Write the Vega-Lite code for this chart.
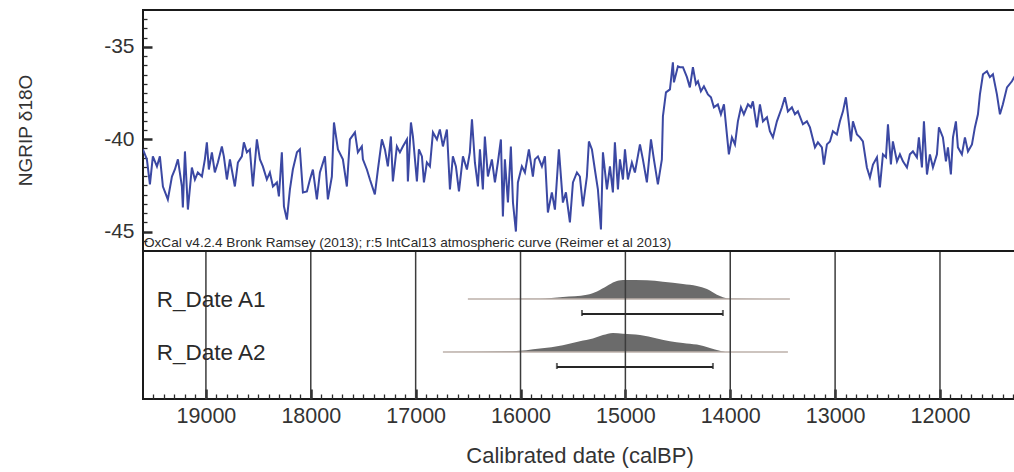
{
  "$schema": "https://vega.github.io/schema/vega-lite/v6.json",
  "width": 873,
  "height": 389,
  "autosize": {"type": "none"},
  "padding": {"left": 143, "top": 10, "right": 0, "bottom": 73},
  "background": "white",
  "config": {
    "view": {"stroke": "#1a1a1a", "strokeWidth": 2},
    "font": "Liberation Sans"
  },
  "datasets": {
    "ngrip": [
      {"date": 19601, "d18O": -40.55}, {"date": 19563, "d18O": -41.09}, {"date": 19534, "d18O": -42.45}, {"date": 19506, "d18O": -40.93},
      {"date": 19467, "d18O": -41.47}, {"date": 19439, "d18O": -40.93}, {"date": 19410, "d18O": -42.56}, {"date": 19363, "d18O": -43.26},
      {"date": 19324, "d18O": -42.02}, {"date": 19296, "d18O": -41.64}, {"date": 19267, "d18O": -41.09}, {"date": 19229, "d18O": -42.56},
      {"date": 19220, "d18O": -43.70}, {"date": 19200, "d18O": -40.66}, {"date": 19172, "d18O": -43.81}, {"date": 19134, "d18O": -41.53},
      {"date": 19105, "d18O": -42.18}, {"date": 19077, "d18O": -41.80}, {"date": 19038, "d18O": -42.02}, {"date": 19010, "d18O": -41.09},
      {"date": 18991, "d18O": -40.17}, {"date": 18972, "d18O": -41.64}, {"date": 18943, "d18O": -40.71}, {"date": 18915, "d18O": -41.80},
      {"date": 18886, "d18O": -41.26}, {"date": 18848, "d18O": -40.39}, {"date": 18829, "d18O": -40.93}, {"date": 18800, "d18O": -42.18},
      {"date": 18771, "d18O": -41.09}, {"date": 18724, "d18O": -42.56}, {"date": 18695, "d18O": -41.26}, {"date": 18657, "d18O": -40.93},
      {"date": 18638, "d18O": -40.17}, {"date": 18609, "d18O": -40.71}, {"date": 18581, "d18O": -40.55}, {"date": 18552, "d18O": -42.56},
      {"date": 18514, "d18O": -40.01}, {"date": 18485, "d18O": -41.09}, {"date": 18457, "d18O": -41.47}, {"date": 18419, "d18O": -42.18},
      {"date": 18390, "d18O": -41.80}, {"date": 18361, "d18O": -42.56}, {"date": 18323, "d18O": -42.34}, {"date": 18304, "d18O": -43.10},
      {"date": 18276, "d18O": -40.71}, {"date": 18256, "d18O": -43.64}, {"date": 18228, "d18O": -44.35}, {"date": 18199, "d18O": -42.72},
      {"date": 18171, "d18O": -41.64}, {"date": 18132, "d18O": -40.71}, {"date": 18104, "d18O": -40.55}, {"date": 18075, "d18O": -42.88},
      {"date": 18037, "d18O": -42.83}, {"date": 18008, "d18O": -42.18}, {"date": 17980, "d18O": -41.64}, {"date": 17942, "d18O": -43.26},
      {"date": 17913, "d18O": -41.80}, {"date": 17865, "d18O": -40.93}, {"date": 17837, "d18O": -43.26}, {"date": 17799, "d18O": -42.02},
      {"date": 17779, "d18O": -39.09}, {"date": 17741, "d18O": -40.55}, {"date": 17694, "d18O": -41.09}, {"date": 17656, "d18O": -42.56},
      {"date": 17627, "d18O": -40.01}, {"date": 17579, "d18O": -39.63}, {"date": 17551, "d18O": -40.71}, {"date": 17513, "d18O": -40.39},
      {"date": 17503, "d18O": -41.09}, {"date": 17465, "d18O": -41.64}, {"date": 17436, "d18O": -42.18}, {"date": 17389, "d18O": -42.99},
      {"date": 17360, "d18O": -41.64}, {"date": 17322, "d18O": -40.01}, {"date": 17293, "d18O": -40.55}, {"date": 17265, "d18O": -41.47},
      {"date": 17236, "d18O": -39.85}, {"date": 17217, "d18O": -42.29}, {"date": 17179, "d18O": -40.39}, {"date": 17150, "d18O": -40.71},
      {"date": 17122, "d18O": -40.39}, {"date": 17083, "d18O": -40.01}, {"date": 17074, "d18O": -42.29}, {"date": 17045, "d18O": -39.09},
      {"date": 17026, "d18O": -39.85}, {"date": 16988, "d18O": -42.29}, {"date": 16969, "d18O": -40.55}, {"date": 16940, "d18O": -40.93},
      {"date": 16921, "d18O": -42.34}, {"date": 16893, "d18O": -41.26}, {"date": 16864, "d18O": -41.47}, {"date": 16835, "d18O": -39.63},
      {"date": 16797, "d18O": -40.01}, {"date": 16769, "d18O": -39.47}, {"date": 16740, "d18O": -40.39}, {"date": 16702, "d18O": -39.47},
      {"date": 16673, "d18O": -42.72}, {"date": 16645, "d18O": -40.93}, {"date": 16616, "d18O": -41.47}, {"date": 16587, "d18O": -42.83},
      {"date": 16549, "d18O": -40.93}, {"date": 16511, "d18O": -41.64}, {"date": 16483, "d18O": -40.71}, {"date": 16463, "d18O": -38.92},
      {"date": 16435, "d18O": -41.26}, {"date": 16406, "d18O": -42.56}, {"date": 16387, "d18O": -40.55}, {"date": 16359, "d18O": -42.72},
      {"date": 16340, "d18O": -39.85}, {"date": 16311, "d18O": -42.02}, {"date": 16273, "d18O": -41.09}, {"date": 16244, "d18O": -42.34},
      {"date": 16216, "d18O": -41.26}, {"date": 16187, "d18O": -40.01}, {"date": 16168, "d18O": -44.19}, {"date": 16149, "d18O": -41.09},
      {"date": 16120, "d18O": -43.43}, {"date": 16092, "d18O": -40.39}, {"date": 16072, "d18O": -43.43}, {"date": 16044, "d18O": -45.00},
      {"date": 16025, "d18O": -42.34}, {"date": 15987, "d18O": -41.47}, {"date": 15958, "d18O": -41.80}, {"date": 15920, "d18O": -40.55},
      {"date": 15882, "d18O": -42.02}, {"date": 15863, "d18O": -41.09}, {"date": 15834, "d18O": -40.93}, {"date": 15796, "d18O": -41.47},
      {"date": 15767, "d18O": -40.93}, {"date": 15739, "d18O": -43.97}, {"date": 15701, "d18O": -42.88}, {"date": 15672, "d18O": -43.81},
      {"date": 15634, "d18O": -40.55}, {"date": 15596, "d18O": -43.43}, {"date": 15567, "d18O": -42.88}, {"date": 15529, "d18O": -44.51},
      {"date": 15500, "d18O": -42.34}, {"date": 15462, "d18O": -41.80}, {"date": 15434, "d18O": -42.02}, {"date": 15405, "d18O": -43.64},
      {"date": 15367, "d18O": -42.02}, {"date": 15348, "d18O": -40.12}, {"date": 15319, "d18O": -40.55}, {"date": 15291, "d18O": -41.64},
      {"date": 15262, "d18O": -42.72}, {"date": 15233, "d18O": -44.89}, {"date": 15214, "d18O": -40.71}, {"date": 15176, "d18O": -42.72},
      {"date": 15147, "d18O": -41.47}, {"date": 15119, "d18O": -42.88}, {"date": 15100, "d18O": -40.17}, {"date": 15071, "d18O": -42.72},
      {"date": 15052, "d18O": -41.09}, {"date": 15023, "d18O": -42.18}, {"date": 15004, "d18O": -40.55}, {"date": 14976, "d18O": -42.18},
      {"date": 14938, "d18O": -41.26}, {"date": 14909, "d18O": -41.80}, {"date": 14861, "d18O": -40.28}, {"date": 14833, "d18O": -41.09},
      {"date": 14795, "d18O": -42.34}, {"date": 14756, "d18O": -40.01}, {"date": 14728, "d18O": -41.09}, {"date": 14690, "d18O": -42.45},
      {"date": 14652, "d18O": -41.09}, {"date": 14642, "d18O": -38.76}, {"date": 14613, "d18O": -37.46}, {"date": 14575, "d18O": -37.30},
      {"date": 14547, "d18O": -35.83}, {"date": 14537, "d18O": -36.92}, {"date": 14499, "d18O": -36.05}, {"date": 14480, "d18O": -36.10},
      {"date": 14451, "d18O": -36.10}, {"date": 14413, "d18O": -36.64}, {"date": 14385, "d18O": -37.19}, {"date": 14356, "d18O": -36.10},
      {"date": 14327, "d18O": -37.02}, {"date": 14308, "d18O": -36.86}, {"date": 14280, "d18O": -37.40}, {"date": 14251, "d18O": -37.13},
      {"date": 14213, "d18O": -37.57}, {"date": 14184, "d18O": -37.73}, {"date": 14156, "d18O": -38.27}, {"date": 14118, "d18O": -38.11},
      {"date": 14089, "d18O": -38.65}, {"date": 14060, "d18O": -38.11}, {"date": 14032, "d18O": -39.74}, {"date": 14013, "d18O": -40.82},
      {"date": 13984, "d18O": -39.90}, {"date": 13955, "d18O": -40.28}, {"date": 13927, "d18O": -39.03}, {"date": 13898, "d18O": -38.27},
      {"date": 13870, "d18O": -38.65}, {"date": 13831, "d18O": -38.11}, {"date": 13803, "d18O": -38.27}, {"date": 13784, "d18O": -37.95},
      {"date": 13746, "d18O": -39.36}, {"date": 13717, "d18O": -38.11}, {"date": 13688, "d18O": -39.03}, {"date": 13650, "d18O": -38.81},
      {"date": 13622, "d18O": -39.57}, {"date": 13593, "d18O": -39.90}, {"date": 13555, "d18O": -39.03}, {"date": 13507, "d18O": -38.27},
      {"date": 13479, "d18O": -37.73}, {"date": 13450, "d18O": -38.49}, {"date": 13412, "d18O": -38.27}, {"date": 13383, "d18O": -38.65},
      {"date": 13355, "d18O": -38.49}, {"date": 13307, "d18O": -39.19}, {"date": 13269, "d18O": -39.03}, {"date": 13240, "d18O": -39.36},
      {"date": 13192, "d18O": -40.44}, {"date": 13164, "d18O": -40.17}, {"date": 13126, "d18O": -40.44}, {"date": 13107, "d18O": -41.37},
      {"date": 13078, "d18O": -40.28}, {"date": 13049, "d18O": -40.12}, {"date": 13021, "d18O": -39.57}, {"date": 12983, "d18O": -39.74},
      {"date": 12954, "d18O": -39.03}, {"date": 12925, "d18O": -38.49}, {"date": 12897, "d18O": -37.73}, {"date": 12878, "d18O": -38.65},
      {"date": 12849, "d18O": -40.12}, {"date": 12830, "d18O": -39.03}, {"date": 12792, "d18O": -39.74}, {"date": 12763, "d18O": -39.90},
      {"date": 12735, "d18O": -40.12}, {"date": 12697, "d18O": -41.53}, {"date": 12668, "d18O": -42.07}, {"date": 12639, "d18O": -41.37},
      {"date": 12601, "d18O": -40.98}, {"date": 12573, "d18O": -42.61}, {"date": 12544, "d18O": -40.82}, {"date": 12515, "d18O": -40.98},
      {"date": 12496, "d18O": -39.19}, {"date": 12468, "d18O": -41.37}, {"date": 12449, "d18O": -40.12}, {"date": 12410, "d18O": -41.20},
      {"date": 12382, "d18O": -40.82}, {"date": 12353, "d18O": -41.20}, {"date": 12315, "d18O": -41.53}, {"date": 12287, "d18O": -40.82},
      {"date": 12258, "d18O": -40.66}, {"date": 12220, "d18O": -40.98}, {"date": 12201, "d18O": -39.90}, {"date": 12172, "d18O": -41.53},
      {"date": 12153, "d18O": -39.03}, {"date": 12124, "d18O": -41.91}, {"date": 12096, "d18O": -40.82}, {"date": 12067, "d18O": -41.53},
      {"date": 12029, "d18O": -40.82}, {"date": 12010, "d18O": -39.36}, {"date": 11972, "d18O": -39.90}, {"date": 11943, "d18O": -41.20},
      {"date": 11924, "d18O": -40.44}, {"date": 11896, "d18O": -41.91}, {"date": 11876, "d18O": -39.90}, {"date": 11848, "d18O": -39.03},
      {"date": 11829, "d18O": -40.44}, {"date": 11791, "d18O": -40.82}, {"date": 11762, "d18O": -39.90}, {"date": 11733, "d18O": -40.66},
      {"date": 11695, "d18O": -40.28}, {"date": 11667, "d18O": -39.36}, {"date": 11638, "d18O": -38.65}, {"date": 11619, "d18O": -37.57},
      {"date": 11590, "d18O": -36.48}, {"date": 11552, "d18O": -36.32}, {"date": 11524, "d18O": -36.64}, {"date": 11495, "d18O": -36.48},
      {"date": 11457, "d18O": -37.57}, {"date": 11428, "d18O": -38.65}, {"date": 11400, "d18O": -38.11}, {"date": 11361, "d18O": -37.19},
      {"date": 11314, "d18O": -36.86}, {"date": 11276, "d18O": -36.48}
    ],
    "grid": [
      {"year": 19000}, {"year": 18000}, {"year": 17000}, {"year": 16000},
      {"year": 15000}, {"year": 14000}, {"year": 13000}, {"year": 12000}
    ],
    "dates": [
      {"name": "R_Date A1", "start": 16502, "end": 13431, "from": 15414, "to": 14070},
      {"name": "R_Date A2", "start": 16740, "end": 13450, "from": 15653, "to": 14165}
    ],
    "a1": [
      {"date": 16502, "p": 0}, {"date": 15815, "p": 0.01}, {"date": 15596, "p": 0.1}, {"date": 15367, "p": 0.22},
      {"date": 15271, "p": 0.4}, {"date": 15176, "p": 0.69}, {"date": 15100, "p": 0.91}, {"date": 15023, "p": 1.0},
      {"date": 14795, "p": 0.99}, {"date": 14642, "p": 0.91}, {"date": 14451, "p": 0.79}, {"date": 14318, "p": 0.69},
      {"date": 14222, "p": 0.52}, {"date": 14127, "p": 0.22}, {"date": 14070, "p": 0.09}, {"date": 14003, "p": 0.02},
      {"date": 13431, "p": 0}
    ],
    "a2": [
      {"date": 16740, "p": 0}, {"date": 16072, "p": 0.04}, {"date": 15815, "p": 0.18}, {"date": 15596, "p": 0.36},
      {"date": 15434, "p": 0.57}, {"date": 15310, "p": 0.71}, {"date": 15214, "p": 0.89}, {"date": 15119, "p": 1.0},
      {"date": 15023, "p": 0.96}, {"date": 14861, "p": 0.89}, {"date": 14699, "p": 0.71}, {"date": 14575, "p": 0.57},
      {"date": 14451, "p": 0.48}, {"date": 14318, "p": 0.39}, {"date": 14194, "p": 0.21}, {"date": 14098, "p": 0.07},
      {"date": 14032, "p": 0}, {"date": 13450, "p": 0}
    ],
    "one": [{}]
  },
  "resolve": {"scale": {"y": "independent"}, "axis": {"x": "independent", "y": "independent"}},
  "layer": [
    {
      "data": {"name": "a1"},
      "mark": {"type": "area", "color": "#6b6b6b", "interpolate": "monotone"},
      "encoding": {
        "x": {"field": "date", "type": "quantitative", "scale": {"domain": [19600, 11275], "nice": false, "zero": false}, "axis": null},
        "y": {"field": "p", "type": "quantitative", "scale": {"domain": [0, 1], "range": [289, 270], "nice": false}, "axis": null}
      }
    },
    {
      "data": {"name": "a2"},
      "mark": {"type": "area", "color": "#6b6b6b", "interpolate": "monotone"},
      "encoding": {
        "x": {"field": "date", "type": "quantitative", "scale": {"domain": [19600, 11275], "nice": false, "zero": false}, "axis": null},
        "y": {"field": "p", "type": "quantitative", "scale": {"domain": [0, 1], "range": [342, 323], "nice": false}, "axis": null}
      }
    },
    {
      "data": {"name": "dates"},
      "mark": {"type": "rule", "color": "#bdb1aa", "strokeWidth": 1.5},
      "encoding": {
        "x": {"field": "start", "type": "quantitative", "scale": {"domain": [19600, 11275], "nice": false, "zero": false}, "axis": null},
        "x2": {"field": "end"},
        "y": {"field": "name", "type": "nominal", "scale": {"type": "point", "domain": ["R_Date A1", "R_Date A2"], "range": [289, 342], "padding": 0}, "axis": null}
      }
    },
    {
      "data": {"name": "grid"},
      "mark": {"type": "rule", "color": "#3c3c3c", "strokeWidth": 1.5},
      "encoding": {
        "x": {"field": "year", "type": "quantitative", "scale": {"domain": [19600, 11275], "nice": false, "zero": false}, "axis": null},
        "y": {"datum": 0, "type": "quantitative", "scale": {"domain": [0, 1], "range": [389, 242], "nice": false}, "axis": null},
        "y2": {"datum": 1}
      }
    },
    {
      "data": {"name": "dates"},
      "mark": {"type": "rule", "color": "#262626", "strokeWidth": 2},
      "encoding": {
        "x": {"field": "from", "type": "quantitative", "scale": {"domain": [19600, 11275], "nice": false, "zero": false}, "axis": null},
        "x2": {"field": "to"},
        "y": {"field": "name", "type": "nominal", "scale": {"type": "point", "domain": ["R_Date A1", "R_Date A2"], "range": [304, 357], "padding": 0}, "axis": null}
      }
    },
    {
      "data": {"name": "dates"},
      "mark": {"type": "tick", "color": "#262626", "size": 6, "thickness": 2, "orient": "vertical"},
      "encoding": {
        "x": {"field": "from", "type": "quantitative", "scale": {"domain": [19600, 11275], "nice": false, "zero": false}, "axis": null},
        "y": {"field": "name", "type": "nominal", "scale": {"type": "point", "domain": ["R_Date A1", "R_Date A2"], "range": [303, 356], "padding": 0}, "axis": null}
      }
    },
    {
      "data": {"name": "dates"},
      "mark": {"type": "tick", "color": "#262626", "size": 6, "thickness": 2, "orient": "vertical"},
      "encoding": {
        "x": {"field": "to", "type": "quantitative", "scale": {"domain": [19600, 11275], "nice": false, "zero": false}, "axis": null},
        "y": {"field": "name", "type": "nominal", "scale": {"type": "point", "domain": ["R_Date A1", "R_Date A2"], "range": [303, 356], "padding": 0}, "axis": null}
      }
    },
    {
      "data": {"name": "dates"},
      "mark": {"type": "text", "align": "left", "baseline": "middle", "fontSize": 22.5, "font": "Liberation Sans", "color": "#2a2a2a"},
      "encoding": {
        "x": {"datum": 19470, "type": "quantitative", "scale": {"domain": [19600, 11275], "nice": false, "zero": false}, "axis": null},
        "y": {"field": "name", "type": "nominal", "scale": {"type": "point", "domain": ["R_Date A1", "R_Date A2"], "range": [290, 343], "padding": 0}, "axis": null},
        "text": {"field": "name"}
      }
    },
    {
      "data": {"name": "one"},
      "mark": {"type": "rule", "color": "#1a1a1a", "strokeWidth": 2},
      "encoding": {
        "y": {"datum": 1, "type": "quantitative", "scale": {"domain": [0, 1], "range": [389, 241], "nice": false}, "axis": null}
      }
    },
    {
      "data": {"name": "one"},
      "mark": {"type": "text", "align": "left", "baseline": "bottom", "dx": 1, "dy": -1, "fontSize": 13.6, "font": "Liberation Sans", "color": "#2a2a2a", "text": "OxCal v4.2.4 Bronk Ramsey (2013); r:5 IntCal13 atmospheric curve (Reimer et al 2013)"},
      "encoding": {
        "x": {"datum": 19600, "type": "quantitative", "scale": {"domain": [19600, 11275], "nice": false, "zero": false}, "axis": null},
        "y": {"datum": 1, "type": "quantitative", "scale": {"domain": [0, 1], "range": [389, 241], "nice": false}, "axis": null}
      }
    },
    {
      "data": {"name": "ngrip"},
      "mark": {"type": "line", "color": "#3b48a3", "strokeOpacity": 0, "clip": true},
      "encoding": {
        "x": {
          "field": "date", "type": "quantitative",
          "scale": {"domain": [19600, 11275], "nice": false, "zero": false},
          "axis": {
            "orient": "bottom",
            "values": [11300, 11400, 11500, 11600, 11700, 11800, 11900, 12100, 12200, 12300, 12400, 12500, 12600, 12700, 12800, 12900, 13100, 13200, 13300, 13400, 13500, 13600, 13700, 13800, 13900, 14100, 14200, 14300, 14400, 14500, 14600, 14700, 14800, 14900, 15100, 15200, 15300, 15400, 15500, 15600, 15700, 15800, 15900, 16100, 16200, 16300, 16400, 16500, 16600, 16700, 16800, 16900, 17100, 17200, 17300, 17400, 17500, 17600, 17700, 17800, 17900, 18100, 18200, 18300, 18400, 18500, 18600, 18700, 18800, 18900, 19100, 19200, 19300, 19400, 19500],
            "offset": -5,
            "tickSize": 5,
            "tickWidth": 1.3,
            "tickColor": "#2a2a2a",
            "labels": false,
            "domain": false,
            "grid": false,
            "title": null
          }
        },
        "y": {
          "field": "d18O", "type": "quantitative",
          "scale": {"domain": [-46, -33], "range": [240, 0], "nice": false, "zero": false},
          "axis": {
            "orient": "left",
            "values": [-45.5, -44.5, -44, -43.5, -43, -42.5, -42, -41.5, -41, -40.5, -39.5, -39, -38.5, -38, -37.5, -37, -36.5, -36, -35.5, -34.5, -34, -33.5],
            "offset": -4,
            "tickSize": 4,
            "tickWidth": 1.3,
            "tickColor": "#2a2a2a",
            "labels": false,
            "domain": false,
            "grid": false,
            "title": null
          }
        }
      }
    },
    {
      "data": {"name": "ngrip"},
      "mark": {"type": "line", "color": "#3b48a3", "strokeWidth": 2, "clip": true},
      "encoding": {
        "x": {
          "field": "date", "type": "quantitative",
          "scale": {"domain": [19600, 11275], "nice": false, "zero": false},
          "axis": {
            "orient": "bottom",
            "values": [12000, 13000, 14000, 15000, 16000, 17000, 18000, 19000],
            "offset": -10,
            "tickSize": 10,
            "tickWidth": 2.5,
            "tickColor": "#2a2a2a",
            "labelExpr": "'' + datum.value",
            "labelPadding": 6,
            "labelFont": "Liberation Sans",
            "labelFontSize": 21.5,
            "labelColor": "#333333",
            "labelOverlap": false,
            "labelFlush": false,
            "domain": false,
            "grid": false,
            "title": "Calibrated date (calBP)",
            "titleFont": "Liberation Sans",
            "titleFontSize": 22,
            "titleFontWeight": "normal",
            "titleColor": "#333333",
            "titlePadding": 19
          }
        },
        "y": {
          "field": "d18O", "type": "quantitative",
          "scale": {"domain": [-46, -33], "range": [240, 0], "nice": false, "zero": false},
          "axis": {
            "orient": "left",
            "values": [-45, -40, -35],
            "offset": -9,
            "tickSize": 9,
            "tickWidth": 2.5,
            "tickColor": "#2a2a2a",
            "labelExpr": "'' + datum.value",
            "labelPadding": 9,
            "labelFont": "Liberation Sans",
            "labelFontSize": 21,
            "labelColor": "#333333",
            "labelOverlap": false,
            "labelFlush": false,
            "domain": false,
            "grid": false,
            "title": "NGRIP δ18O",
            "titleFont": "Liberation Sans",
            "titleFontSize": 19,
            "titleFontWeight": "normal",
            "titleColor": "#333333",
            "titlePadding": 68
          }
        }
      }
    }
  ]
}
